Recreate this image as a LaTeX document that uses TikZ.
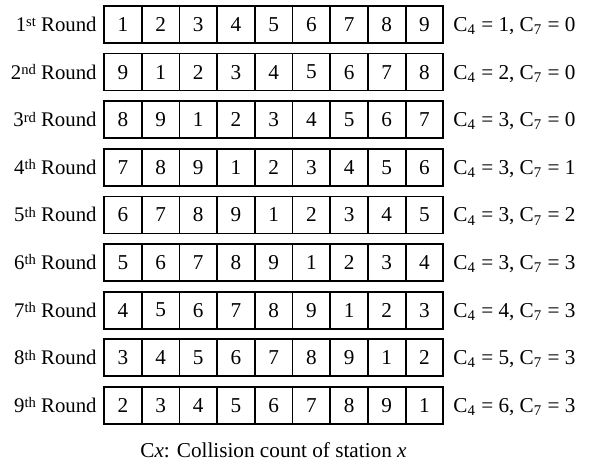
\documentclass[tikz,border=0pt]{standalone}
\usepackage{fontspec}
\setmainfont{Liberation Serif}
\usetikzlibrary{positioning}

\begin{document}
\begin{tikzpicture}[
    x=0.5pt, y=-0.5pt,
    every node/.style={font=\fontsize{10.6}{12}\selectfont},
    cell/.style={
        draw, line width=0.9pt,
        minimum width=18.85pt, minimum height=18.5pt,
        inner sep=0pt
    },
    rlbl/.style={anchor=base east, inner sep=0pt, font=\fontsize{10.4}{12}\selectfont},
    cnt/.style={anchor=base west, inner sep=0pt}
]
    \useasboundingbox (0,0) rectangle (593,465);

    % one row of stations per round
    \foreach \r/\sfx/\ca/\cb in {1/st/1/0, 2/nd/2/0, 3/rd/3/0, 4/th/3/1, 5/th/3/2,
                                 6/th/3/3, 7/th/4/3, 8/th/5/3, 9/th/6/3} {
        \pgfmathsetmacro{\ry}{24.5+(\r-1)*47.6}
        \foreach \c in {1,...,9} {
            \pgfmathtruncatemacro{\v}{mod(\c-\r+9,9)+1}
            \node[cell] (c-\r-\c) at ({104+37.7*(\c-0.5)}, \ry) {\v};
        }
        \node[rlbl] (lbl-\r) at (97, \ry+7) {\r{\fontsize{7.3}{7}\selectfont\raisebox{0.7ex}{\sfx}} Round};
        \node[cnt] (cnt-\r) at (453, \ry+7) {C\textsubscript{4} = \ca, C\textsubscript{7} = \cb};
    }

    \node (caption) at (273.5, 450) {C\textit{x}: Collision count of station \textit{x}};
\end{tikzpicture}
\end{document}
